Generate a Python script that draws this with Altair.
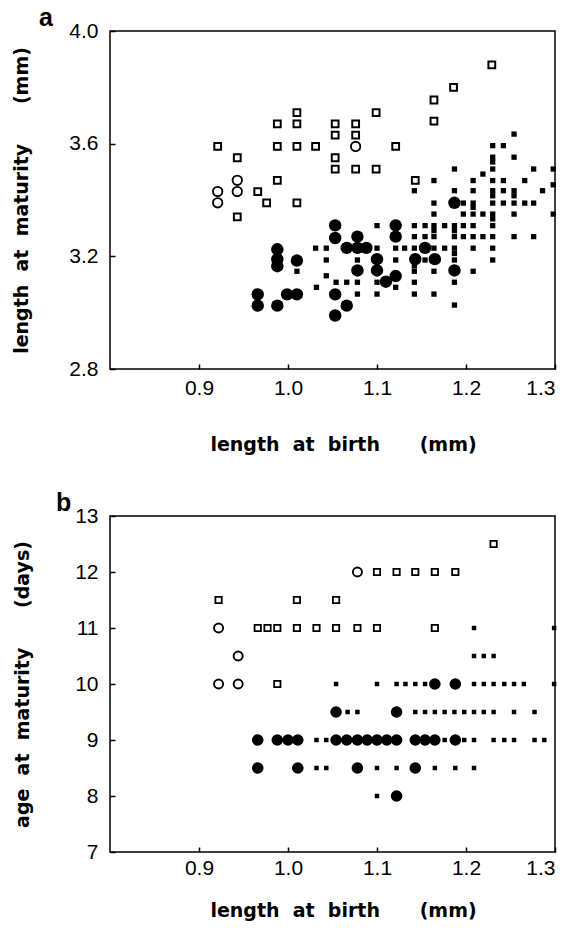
import altair as alt
import pandas as pd

# ---------------- panel a : length at maturity vs length at birth ----------------
A_OPEN_SQ_X = [1.010, 0.988, 1.010, 1.053, 1.076, 1.053, 1.076, 0.921, 0.988, 1.010, 1.031,
               0.943, 1.053, 1.053, 1.076, 1.099, 0.988, 0.966, 0.976, 1.010, 0.943,
               1.229, 1.186, 1.164, 1.164, 1.099, 1.121, 1.143]
A_OPEN_SQ_Y = [3.71, 3.67, 3.67, 3.67, 3.67, 3.63, 3.63, 3.59, 3.59, 3.59, 3.59,
               3.55, 3.55, 3.51, 3.51, 3.51, 3.47, 3.43, 3.39, 3.39, 3.34,
               3.88, 3.80, 3.755, 3.68, 3.71, 3.59, 3.47]

A_OPEN_CI_X = [1.076, 0.943, 0.943, 0.921, 0.921]
A_OPEN_CI_Y = [3.59, 3.47, 3.43, 3.43, 3.39]

A_FILL_CI_X = [1.053, 1.053, 1.078, 1.066, 1.078, 1.088, 1.100, 1.100, 1.078, 1.110,
               1.053, 1.066, 1.053, 0.988, 0.988, 0.988, 1.010, 0.966, 0.966, 0.988,
               0.999, 1.010, 1.121, 1.121, 1.154, 1.143, 1.165, 1.187, 1.187, 1.121]
A_FILL_CI_Y = [3.31, 3.265, 3.27, 3.23, 3.23, 3.23, 3.19, 3.15, 3.15, 3.11,
               3.065, 3.025, 2.99, 3.225, 3.19, 3.165, 3.185, 3.065, 3.025, 3.025,
               3.065, 3.065, 3.31, 3.27, 3.23, 3.19, 3.19, 3.39, 3.15, 3.13]

A_SMALL_SQ_X = [1.254,
                1.230, 1.242,
                1.230, 1.254, 1.230,
                1.187, 1.230, 1.276, 1.298, 1.219,
                1.164, 1.208, 1.230, 1.242, 1.266, 1.298,
                1.142, 1.187, 1.208, 1.230, 1.242, 1.254, 1.286, 1.230, 1.254,
                1.164, 1.197, 1.208, 1.230, 1.242, 1.254, 1.266, 1.276, 1.208,
                1.164, 1.197, 1.208, 1.219, 1.230, 1.254, 1.298, 1.230,
                1.100, 1.142, 1.154, 1.164, 1.176, 1.187, 1.197, 1.208, 1.230, 1.164, 1.187,
                1.142, 1.154, 1.164, 1.187, 1.197, 1.208, 1.219, 1.230, 1.254, 1.276,
                1.031, 1.043, 1.100, 1.121, 1.131, 1.142, 1.164, 1.176, 1.187, 1.208, 1.230, 1.187,
                1.043, 1.078, 1.121, 1.154, 1.187, 1.230, 1.142,
                1.010, 1.142, 1.164, 1.208, 1.043,
                1.054, 1.066, 1.078, 1.100, 1.142, 1.187, 1.032, 1.121,
                1.078, 1.100, 1.142, 1.164, 1.187]
A_SMALL_SQ_Y = [3.634,
                3.593, 3.593,
                3.552, 3.552, 3.535,
                3.51, 3.51, 3.51, 3.51, 3.492,
                3.469, 3.469, 3.469, 3.469, 3.469, 3.454,
                3.433, 3.433, 3.433, 3.433, 3.433, 3.433, 3.433, 3.415, 3.415,
                3.389, 3.389, 3.389, 3.389, 3.389, 3.389, 3.389, 3.389, 3.374,
                3.35, 3.35, 3.35, 3.35, 3.35, 3.35, 3.35, 3.333,
                3.309, 3.309, 3.309, 3.309, 3.309, 3.309, 3.309, 3.309, 3.309, 3.291, 3.291,
                3.27, 3.27, 3.27, 3.27, 3.27, 3.27, 3.27, 3.27, 3.27, 3.27,
                3.229, 3.229, 3.229, 3.229, 3.229, 3.229, 3.229, 3.229, 3.229, 3.229, 3.229, 3.21,
                3.187, 3.187, 3.187, 3.187, 3.187, 3.187, 3.166,
                3.147, 3.147, 3.147, 3.147, 3.131,
                3.108, 3.108, 3.108, 3.108, 3.108, 3.108, 3.09, 3.09,
                3.066, 3.066, 3.066, 3.066, 3.027]

# ---------------- panel b : age at maturity vs length at birth ----------------
B_OPEN_SQ_X = [1.231, 1.100, 1.122, 1.143, 1.165, 1.188, 0.922, 1.010, 1.054,
               0.966, 0.977, 0.988, 1.010, 1.032, 1.054, 1.078, 1.100, 1.165, 0.988]
B_OPEN_SQ_Y = [12.5, 12, 12, 12, 12, 12, 11.5, 11.5, 11.5,
               11, 11, 11, 11, 11, 11, 11, 11, 11, 10]

B_OPEN_CI_X = [1.078, 0.922, 0.944, 0.922, 0.944]
B_OPEN_CI_Y = [12, 11, 10.5, 10, 10]

B_FILL_CI_X = [1.165, 1.188,
               1.054, 1.122,
               0.966, 0.988, 1.000, 1.011, 1.054, 1.066, 1.078, 1.089, 1.100, 1.111, 1.122,
               1.143, 1.154, 1.165, 1.188,
               0.966, 1.011, 1.078, 1.143,
               1.122]
B_FILL_CI_Y = [10, 10,
               9.5, 9.5,
               9, 9, 9, 9, 9, 9, 9, 9, 9, 9, 9,
               9, 9, 9, 9,
               8.5, 8.5, 8.5, 8.5,
               8]

B_SMALL_SQ_X = [1.209, 1.299,
                1.209, 1.220, 1.231,
                1.054, 1.100, 1.122, 1.132, 1.143, 1.154, 1.209, 1.220, 1.231, 1.243, 1.254, 1.265, 1.299,
                1.067, 1.078, 1.143, 1.154, 1.165, 1.176, 1.187, 1.198, 1.209, 1.220, 1.231, 1.254, 1.277,
                1.032, 1.043, 1.176, 1.198, 1.209, 1.231, 1.243, 1.254, 1.277, 1.288,
                1.032, 1.043, 1.100, 1.122, 1.165, 1.188, 1.209,
                1.100]
B_SMALL_SQ_Y = [11, 11,
                10.5, 10.5, 10.5,
                10, 10, 10, 10, 10, 10, 10, 10, 10, 10, 10, 10, 10,
                9.5, 9.5, 9.5, 9.5, 9.5, 9.5, 9.5, 9.5, 9.5, 9.5, 9.5, 9.5, 9.5,
                9, 9, 9, 9, 9, 9, 9, 9, 9, 9,
                8.5, 8.5, 8.5, 8.5, 8.5, 8.5, 8.5,
                8]

X_TICKS = [0.9, 1.0, 1.1, 1.2, 1.3]
A_Y_TICKS = [2.8, 3.2, 3.6, 4.0]
B_Y_TICKS = [7, 8, 9, 10, 11, 12, 13]

NB = "\u00a0"
X_TITLE = "length" + NB * 2 + "at" + NB * 2 + "birth" + NB * 6 + "(mm)"
A_Y_TITLE = "length" + NB * 2 + "at" + NB * 2 + "maturity" + NB * 6 + "(mm)"
B_Y_TITLE = "age" + NB * 2 + "at" + NB * 2 + "maturity" + NB * 6 + "(days)"

LABEL_FONT = "Liberation Sans"
TITLE_FONT = "DejaVu Sans"


def x_axis(label_pad, title_pad):
    return alt.Axis(values=X_TICKS, format=".1f", title=X_TITLE, domain=False, grid=False,
                    tickSize=5, tickWidth=1.5, tickColor="black", offset=-5,
                    labelPadding=label_pad, titlePadding=title_pad, titleX=233)


def y_axis(values, fmt, title, title_pad):
    return alt.Axis(values=values, format=fmt, title=title, domain=False, grid=False,
                    tickSize=5, tickWidth=1.5, tickColor="black", offset=-5,
                    labelPadding=12, titlePadding=title_pad)


def panel(sets, ydom, xax, yax, label, title_dx, h):
    xs = alt.Scale(domain=[0.8, 1.3], nice=False, zero=False)
    ys = alt.Scale(domain=ydom, nice=False, zero=False)
    layers = []
    for xv, yv, shape, filled, size, sw in sets:
        d = pd.DataFrame({"x": xv, "y": yv})
        m = alt.Chart(d).mark_point(shape=shape, filled=filled, size=size, strokeWidth=sw,
                                    color="black", opacity=1)
        layers.append(m.encode(x=alt.X("x:Q", scale=xs, axis=xax),
                               y=alt.Y("y:Q", scale=ys, axis=yax)))
    return alt.layer(*layers).properties(
        width=445, height=h,
        title=alt.TitleParams(text=label, anchor="start", frame="group", dx=title_dx,
                              font="Liberation Sans", fontSize=25, fontWeight="bold",
                              baseline="alphabetic", offset=-31, color="black"))


pa = panel([
    (A_SMALL_SQ_X, A_SMALL_SQ_Y, "square", True, 28, 0),
    (A_FILL_CI_X, A_FILL_CI_Y, "circle", True, 155, 0),
    (A_OPEN_SQ_X, A_OPEN_SQ_Y, "square", False, 46, 2),
    (A_OPEN_CI_X, A_OPEN_CI_Y, "circle", False, 88, 1.9),
], [2.8, 4.0], x_axis(8, 37), y_axis(A_Y_TICKS, ".1f", A_Y_TITLE, 37), "a", -71, 338)

pb = panel([
    (B_SMALL_SQ_X, B_SMALL_SQ_Y, "square", True, 20, 0),
    (B_FILL_CI_X, B_FILL_CI_Y, "circle", True, 135, 0),
    (B_OPEN_SQ_X, B_OPEN_SQ_Y, "square", False, 40, 1.8),
    (B_OPEN_CI_X, B_OPEN_CI_Y, "circle", False, 82, 1.9),
], [7, 13], x_axis(5, 23), y_axis(B_Y_TICKS, "d", B_Y_TITLE, 42), "b", -54, 336)

chart = alt.vconcat(pa, pb, spacing=147, bounds="flush").properties(
    padding={"left": 12, "top": 5, "right": 5, "bottom": 5}
).configure_view(stroke="black", strokeWidth=1.5).configure_axis(
    labelFont=LABEL_FONT, labelFontSize=21, labelColor="black",
    titleFont=TITLE_FONT, titleFontSize=19, titleFontWeight="bold", titleColor="black"
)

chart.save("out.html", embed_options={"renderer": "svg", "actions": False})
